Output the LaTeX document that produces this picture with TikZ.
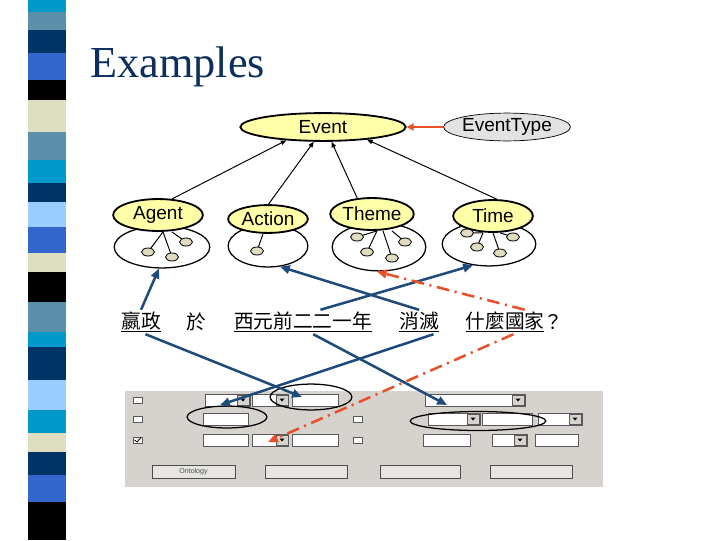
\documentclass[tikz,border=0pt]{standalone}
\usepackage{fontspec}
\setmainfont{Liberation Sans}
\newfontfamily\titlefont{Liberation Serif}
\newfontfamily\cjk{Noto Sans CJK TC}
\usepackage{xcolor}
\usepackage{tikz}
\usetikzlibrary{shapes,arrows,positioning,calc,arrows.meta}

\definecolor{sCyan}{HTML}{0099CC}
\definecolor{sSteel}{HTML}{5B8FA9}
\definecolor{sNavy}{HTML}{003366}
\definecolor{sRoyal}{HTML}{3366CC}
\definecolor{sCream}{HTML}{DEDEC0}
\definecolor{sLight}{HTML}{99CCFF}
\definecolor{titleblue}{HTML}{0D2F5E}
\definecolor{conceptfill}{HTML}{FFFFA8}
\definecolor{typefill}{HTML}{E2E2E2}
\definecolor{slotfill}{HTML}{E0DCC0}
\definecolor{linkblue}{HTML}{1F4B7A}
\definecolor{linkred}{HTML}{E8502A}
\definecolor{panelgray}{HTML}{D6D3CE}

\begin{document}
\begin{tikzpicture}[x=0.025cm, y=-0.025cm,
    concept/.style={ellipse, draw, line width=1.3pt, fill=conceptfill, inner sep=0pt,
        font=\fontsize{13.5}{16}\selectfont},
    bag/.style={ellipse, draw, line width=0.9pt, inner sep=0pt},
    slot/.style={ellipse, draw, line width=0.6pt, fill=slotfill, inner sep=0pt,
        minimum width=9.2pt, minimum height=5.7pt},
    word/.style={font=\cjk\fontsize{14}{16}\selectfont, inner sep=1pt},
    isa/.style={line width=0.7pt, -{Triangle[length=4pt,width=3.2pt]}},
    bluelink/.style={draw=linkblue, line width=1.8pt, -{Triangle[length=7pt,width=6pt]}},
    redlink/.style={draw=linkred, line width=1.8pt, dash pattern=on 9pt off 4pt on 1.5pt off 4pt,
        -{Triangle[length=7pt,width=6pt]}},
    field/.style={draw=gray!70!black, fill=white, line width=0.5pt},
    dropbtn/.style={draw=gray!70!black, fill=panelgray, line width=0.5pt},
    button/.style={draw=gray!60!black, fill=panelgray!60!white, line width=0.6pt},
    ring/.style={draw, line width=0.9pt}]

    \useasboundingbox (0,0) rectangle (720,540);

    % Left stripe
    \foreach \ya/\yb/\c in {0/12/sCyan, 12/30/sSteel, 30/53/sNavy, 53/80/sRoyal, 80/100/black,
        100/132/sCream, 132/160/sSteel, 160/183/sCyan, 183/202/sNavy, 202/227/sLight,
        227/253/sRoyal, 253/272/sCream, 272/302/black, 302/332/sSteel, 332/347/sCyan,
        347/380/sNavy, 380/410/sLight, 410/433/sCyan, 433/452/sCream, 452/475/sNavy,
        475/502/sRoyal, 502/540/black} {
        \fill[\c] (28,\ya) rectangle (66,\yb);
    }

    % Title
    \node [anchor=base west, inner sep=0pt, text=titleblue,
        font=\titlefont\fontsize{31.5}{38}\selectfont] (title) at (90,77) {Examples};

    % Event and its type
    \node [concept, minimum width=117.6pt, minimum height=19.8pt] (ev) at (323,127) {Event};
    \node [ellipse, draw, line width=0.5pt, fill=typefill, inner sep=0pt,
        minimum width=80.8pt, minimum height=19.8pt, font=\fontsize{13.5}{16}\selectfont]
        (evtype) at (507,127) {EventType};
    \draw [draw=linkred, line width=1.4pt, -{Triangle[length=5pt,width=5pt]}] (evtype) -- (ev);

    % Slot bags
    \node [bag, minimum width=68pt, minimum height=29.8pt] (agentc) at (162,247) {};
    \node [bag, minimum width=56.7pt, minimum height=29.8pt] (actionc) at (268,246) {};
    \node [bag, minimum width=66.6pt, minimum height=34pt] (themec) at (379,247) {};
    \node [bag, minimum width=66.6pt, minimum height=31.2pt] (timec) at (489,244) {};

    % Roles
    \node [concept, minimum width=63.8pt, minimum height=22.7pt] (agent) at (158,215) {Agent};
    \node [concept, minimum width=56.7pt, minimum height=19.8pt] (action) at (268,219) {Action};
    \node [concept, minimum width=56.7pt, minimum height=22.7pt] (theme) at (372,214) {Theme};
    \node [concept, minimum width=56.7pt, minimum height=22.7pt] (time) at (493,216) {Time};

    % Slots hanging under each role
    \foreach \r/\n/\x/\y/\o in {agent/1/148/252/5, agent/2/172/257/5, agent/3/186/242/14,
        action/1/257/251/-5,
        theme/1/357/237/5, theme/2/367/252/5, theme/3/392/258/11, theme/4/405/242/20,
        time/1/467/233/-10, time/2/477/247/-10, time/3/500/253/0, time/4/513/237/7} {
        \draw [line width=0.7pt] ($(\r.south)+(\o,0)$) -- (\x,\y);
        \node [slot] (\r-s\n) at (\x,\y) {};
    }

    % Roles point up to the event
    \draw [isa] (agent.49) -- (ev.200);
    \draw [isa] (action.88) -- (ev.238);
    \draw [isa] (theme.133) -- (ev.300);
    \draw [isa] (time.77) -- (ev.344);

    % Sentence
    \node [word] (w1) at (141,322) {\underline{嬴政}};
    \node [word] (w2) at (196,322) {於};
    \node [word] (w3) at (303,322) {\underline{西元前二二一年}};
    \node [word] (w4) at (419,322) {\underline{消滅}};
    \node [word] (w5) at (505,322) {\underline{什麼國家}};
    \node [word] (w6) at (553,322) {？};

    % Query form
    \fill [panelgray] (125,391) rectangle (603,487);
    \foreach \xa/\ya/\xb/\yb in {205/394/250/406, 252/394/288/406, 292/394/338/406,
        203/413/248/425, 203/434/248/446, 252/434/288/446, 292/434/338/446,
        425/394/525/406, 428/413/480/425, 482/413/532/425, 538/413/582/425,
        423/434/470/446, 492/434/527/446, 535/434/578/446} {
        \draw [field] (\xa,\ya) rectangle (\xb,\yb);
    }
    \foreach \x/\y in {237/400, 276/400, 276/440, 512/400, 467/419, 569/419, 514/440} {
        \draw [dropbtn] (\x,\y-5) rectangle ++(12,10);
        \fill (\x+3.5,\y-1.5) -- ++(5,0) -- ++(-2.5,3) -- cycle;
    }
    \foreach \x/\y in {133/400, 133/419, 133/440, 353/419, 353/440} {
        \draw [field] (\x,\y-3) rectangle ++(9,6);
    }
    \draw [line width=0.6pt] (134.5,440) -- (137,442) -- (141,437.5);
    \foreach \xa/\xb in {152/235, 265/347, 380/460, 490/572} {
        \draw [button] (\xa,465) rectangle (\xb,478);
    }
    \node [font=\fontsize{5}{6}\selectfont, text=black!70] (btn1) at (193.5,471.5) {Ontology};

    % Ringed fields
    \node [ellipse, ring, minimum width=58.1pt, minimum height=18.4pt] (e1) at (311,397) {};
    \node [ellipse, ring, minimum width=56.7pt, minimum height=15.6pt] (e2) at (227,417) {};
    \node [ellipse, ring, minimum width=96.4pt, minimum height=13.5pt] (e3) at (478,421) {};

    \coordinate (t1) at (302,397);
    \coordinate (t2) at (220,405);
    \coordinate (t3) at (447,405);
    \coordinate (t4) at (268,442);

    % Words up to the slots
    \draw [bluelink] (w1.north) -- (agentc.262);
    \draw [bluelink] (w4.north) -- (actionc.300);
    \draw [bluelink] (w3.35) -- (timec.233);
    \draw [redlink] (w5.32) -- (themec.265);

    % Words down to the form
    \draw [bluelink] (w1.-70) -- (t1);
    \draw [bluelink] (w4.-40) -- (t2);
    \draw [bluelink] (w3.-50) -- (t3);
    \draw [redlink] (w5.-56) -- (t4);
\end{tikzpicture}
\end{document}
